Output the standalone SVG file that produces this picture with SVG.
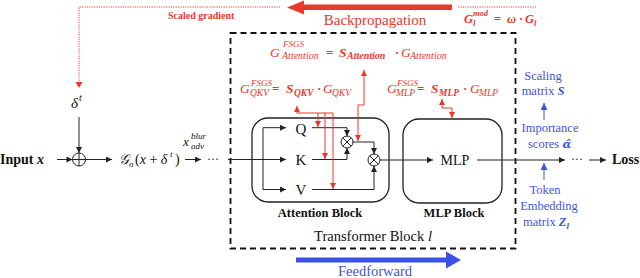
<svg xmlns="http://www.w3.org/2000/svg" width="640" height="278" viewBox="0 0 640 278">
<style>
.b{font-weight:bold}
.i{font-style:italic}
.r{fill:#e8392b}
.bl{fill:#4056d6}
.ln{fill:none;stroke:#222;stroke-width:1}
.rl{fill:none;stroke:#e8392b;stroke-width:1}
.rd{fill:none;stroke:#e8392b;stroke-width:1;stroke-dasharray:1.2 1.2}
.bx{fill:none;stroke:#222;stroke-width:1.3}
.op{fill:#fff;stroke:#222;stroke-width:1}
</style>
<defs>
<marker id="ak" viewBox="0 0 10 10" refX="10" refY="5" markerWidth="7" markerHeight="6" markerUnits="userSpaceOnUse" orient="auto-start-reverse"><path d="M0,0L10,5L0,10z" fill="#222"/></marker>
<marker id="ar" viewBox="0 0 10 10" refX="10" refY="5" markerWidth="6" markerHeight="6" markerUnits="userSpaceOnUse" orient="auto-start-reverse"><path d="M0,0L10,5L0,10z" fill="#e8392b"/></marker>
<marker id="ab" viewBox="0 0 10 10" refX="10" refY="5" markerWidth="7" markerHeight="7" markerUnits="userSpaceOnUse" orient="auto-start-reverse"><path d="M0,0L10,5L0,10z" fill="#4056d6"/></marker>
</defs>
<g font-family="'Liberation Serif', 'Times New Roman', 'DejaVu Serif', serif" fill="#111">

<g id="backprop">
<path class="rd" d="M280,7H79V82"/>
<path d="M75.5,82L82.5,82L79,88z" fill="#e8392b"/>
<path class="rd" d="M458,7H537"/>
<path d="M287,7.5L304,0.5V4.5H452V10H304V14.5z" fill="#e8392b"/>
<text x="168" y="19" class="b r" font-size="10">Scaled gradient</text>
<text x="375" y="25" class="r" font-size="15" text-anchor="middle">Backpropagation</text>
<text x="464" y="23" class="i b r" font-size="12.5">G</text>
<text x="473" y="16" class="i b r" font-size="8.5">mod</text>
<text x="473" y="25.5" class="i b r" font-size="8.5">l</text>
<text x="494" y="23" class="b r" font-size="12.5">=</text>
<text x="507" y="23" class="i b r" font-size="12.5">ω</text>
<text x="519" y="23" class="b r" font-size="12.5">·</text>
<text x="525" y="23" class="i b r" font-size="12.5">G</text>
<text x="534" y="25.5" class="i b r" font-size="8.5">l</text>
</g>

<g id="feedforward">
<path d="M296,257.5H446V251.5L461,260L446,268.5V262.5H296z" fill="#3b50e6"/>
<text x="375" y="275.5" class="bl" font-size="14.5" text-anchor="middle">Feedforward</text>
</g>

<g id="transformer-block">
<rect x="230.5" y="33" width="285" height="215.5" fill="none" stroke="#111" stroke-width="1.8" stroke-dasharray="6 4"/>
<text x="373" y="241" font-size="14.5" text-anchor="middle">Transformer Block <tspan class="i">l</tspan></text>
</g>

<g id="input">
<text x="0" y="164" class="b" font-size="14">Input <tspan class="i">x</tspan></text>
</g>

<g id="delta">
<text x="71" y="108" class="i" font-size="15">δ</text>
<text x="79" y="101" class="i" font-size="10">t</text>
</g>

<g id="plus">
<circle class="op" cx="79" cy="159.5" r="6.5"/>
<path class="ln" d="M72.5,159.5H85.5M79,153V166"/>
</g>

<g id="gauss">
<text x="119" y="164" class="i" font-size="14">𝒢</text>
<text x="129" y="167" class="i" font-size="9">σ</text>
<text x="135" y="164" font-size="14">(<tspan class="i">x</tspan> + <tspan class="i">δ</tspan></text>
<text x="170" y="157" class="i" font-size="9">t</text>
<text x="175" y="164" font-size="14">)</text>
</g>

<g id="x-adv">
<text x="183" y="146" class="i" font-size="13">x</text>
<text x="191" y="139" class="i" font-size="9">blur</text>
<text x="191" y="148.5" class="i" font-size="9">adv</text>
</g>

<g id="dots1"><text x="207" y="163" font-size="12">···</text></g>

<g id="attention-block">
<rect class="bx" x="252" y="118" width="137" height="84" rx="16"/>
<text x="301" y="134" font-size="15" text-anchor="middle">Q</text>
<text x="301" y="165" font-size="15" text-anchor="middle">K</text>
<text x="301" y="195" font-size="15" text-anchor="middle">V</text>
<text x="320" y="217" class="b" font-size="12.5" text-anchor="middle">Attention Block</text>
</g>

<g id="mul1">
<circle class="op" cx="347" cy="142" r="6"/>
<path class="ln" d="M342.8,137.8L351.2,146.2M351.2,137.8L342.8,146.2"/>
</g>
<g id="mul2">
<circle class="op" cx="374" cy="160" r="6"/>
<path class="ln" d="M369.8,155.8L378.2,164.2M378.2,155.8L369.8,164.2"/>
</g>

<g id="mlp-block">
<rect class="bx" x="403" y="119" width="99" height="84" rx="16"/>
<text x="455" y="165" font-size="14" text-anchor="middle">MLP</text>
<text x="454" y="217" class="b" font-size="12.5" text-anchor="middle">MLP Block</text>
</g>

<g id="dots2"><text x="571" y="163" font-size="12">···</text></g>
<g id="loss"><text x="612" y="164" class="b" font-size="14">Loss</text></g>

<g id="formula-attention">
<text x="270" y="56.5" class="i r" font-size="13.5">G</text>
<text x="283" y="47" class="i r" font-size="9">FSGS</text>
<text x="282" y="59" class="i r" font-size="10">Attention</text>
<text x="326" y="56.5" class="b r" font-size="13">=</text>
<text x="339" y="56.5" class="i b r" font-size="13.5">S</text>
<text x="347" y="59" class="i b r" font-size="10">Attention</text>
<text x="395" y="56.5" class="b r" font-size="13">·</text>
<text x="401" y="56.5" class="i r" font-size="13.5">G</text>
<text x="410" y="59" class="i r" font-size="10">Attention</text>
</g>

<g id="formula-qkv">
<text x="240" y="93" class="i r" font-size="13.5">G</text>
<text x="251" y="86" class="i r" font-size="9">FSGS</text>
<text x="250" y="96" class="i r" font-size="9.5">QKV</text>
<text x="272" y="93" class="b r" font-size="13">=</text>
<text x="286" y="93" class="i b r" font-size="13.5">S</text>
<text x="294" y="96" class="i b r" font-size="9.5">QKV</text>
<text x="317" y="93" class="b r" font-size="13">·</text>
<text x="323" y="93" class="i r" font-size="13.5">G</text>
<text x="332" y="96" class="i r" font-size="9.5">QKV</text>
</g>

<g id="formula-mlp">
<text x="387" y="93" class="i r" font-size="13.5">G</text>
<text x="397" y="86" class="i r" font-size="9">FSGS</text>
<text x="396" y="96" class="i r" font-size="9.5">MLP</text>
<text x="417" y="93" class="b r" font-size="13">=</text>
<text x="431" y="93" class="i b r" font-size="13.5">S</text>
<text x="439" y="96" class="i b r" font-size="9.5">MLP</text>
<text x="463" y="93" class="b r" font-size="13">·</text>
<text x="470" y="93" class="i r" font-size="13.5">G</text>
<text x="479" y="96" class="i r" font-size="9.5">MLP</text>
</g>

<g id="scaling-matrix">
<text x="543" y="80" class="bl" font-size="12.5" text-anchor="middle">Scaling</text>
<text x="543" y="95" class="bl" font-size="12.5" text-anchor="middle">matrix <tspan class="i b">S</tspan></text>
</g>
<g id="importance-scores">
<text x="550" y="132" class="bl" font-size="12.5" text-anchor="middle">Importance</text>
<text x="528" y="148" class="bl" font-size="12.5">scores <tspan class="i b" font-family="'DejaVu Serif', serif" font-size="11.5">α̂</tspan></text>
</g>
<g id="token-embedding">
<text x="545" y="194" class="bl" font-size="12.5" text-anchor="middle">Token</text>
<text x="549" y="210" class="bl" font-size="12.5" text-anchor="middle">Embedding</text>
<text x="546" y="226" class="bl" font-size="12.5" text-anchor="middle">matrix <tspan class="i b">Z</tspan><tspan class="i b" font-size="9" dy="3">l</tspan></text>
</g>

<g id="connectors">
<path class="ln" d="M57,159.5H72.5" marker-end="url(#ak)"/>
<path class="ln" d="M79,117V153" marker-end="url(#ak)"/>
<path class="ln" d="M85.5,159.5H112" marker-end="url(#ak)"/>
<path class="ln" d="M185,159.5H201" marker-end="url(#ak)"/>
<path class="ln" d="M228,159.5H286" marker-end="url(#ak)"/>
<path class="ln" d="M263,159.5V127.7H286" marker-end="url(#ak)"/>
<path class="ln" d="M263,159.5V189.5H286" marker-end="url(#ak)"/>
<path class="ln" d="M312,127.7H347V136" marker-end="url(#ak)"/>
<path class="ln" d="M312,159.5H347V148" marker-end="url(#ak)"/>
<path class="ln" d="M353,142H374V154" marker-end="url(#ak)"/>
<path class="ln" d="M312,189.5H374V166" marker-end="url(#ak)"/>
<path class="ln" d="M380,160H433" marker-end="url(#ak)"/>
<path class="ln" d="M477,160H565" marker-end="url(#ak)"/>
<path class="ln" d="M589,160H606" marker-end="url(#ak)"/>
<path class="rl" d="M358,141V105H364V70" marker-start="url(#ar)" marker-end="url(#ar)"/>
<path class="rl" d="M297,106V113H333V189" marker-start="url(#ar)" marker-end="url(#ar)"/>
<path class="rl" d="M318,113V127" marker-end="url(#ar)"/>
<path class="rl" d="M325,113V159" marker-end="url(#ar)"/>
<path class="rl" d="M442,99V108H452V118" marker-start="url(#ar)" marker-end="url(#ar)"/>
<path fill="none" stroke="#4056d6" stroke-width="1" d="M544,120V103" marker-end="url(#ab)"/>
<path fill="none" stroke="#4056d6" stroke-width="1" d="M544,180V163" marker-end="url(#ab)"/>
</g>
</g>
</svg>
